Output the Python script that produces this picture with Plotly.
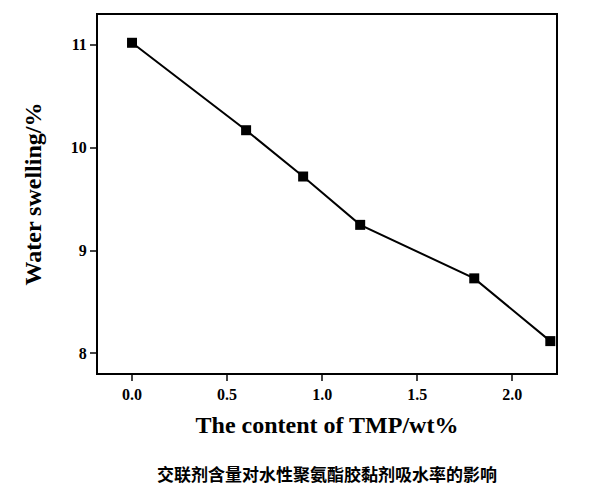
import plotly.graph_objects as go

tmp_content = [0.0, 0.6, 0.9, 1.2, 1.8, 2.2]
water_swelling = [11.02, 10.17, 9.72, 9.25, 8.73, 8.12]
x_ticks = [0.0, 0.5, 1.0, 1.5, 2.0]
x_labels = ["<b>0.0</b>", "<b>0.5</b>", "<b>1.0</b>", "<b>1.5</b>", "<b>2.0</b>"]
y_ticks = [8, 9, 10, 11]
y_labels = ["<b>8</b>", "<b>9</b>", "<b>10</b>", "<b>11</b>"]

fig = go.Figure(
    go.Scatter(
        x=tmp_content,
        y=water_swelling,
        mode="lines+markers",
        line={"color": "black", "width": 2},
        marker={"symbol": "square", "size": 10, "color": "black"},
    )
)

axis_font = {"family": "Liberation Serif", "size": 16, "color": "black"}
fig.update_xaxes(
    range=[-0.179, 2.23],
    tickvals=x_ticks,
    ticktext=x_labels,
    ticks="outside",
    ticklen=6,
    tickwidth=2,
    showline=True,
    linewidth=2,
    linecolor="black",
    mirror=True,
    showgrid=False,
    zeroline=False,
    tickfont=axis_font,
    title={"text": "<b>The content of TMP/wt%</b>",
           "font": {"family": "Liberation Serif", "size": 24, "color": "black"},
           "standoff": 14},
)
fig.update_yaxes(
    range=[7.81, 11.29],
    tickvals=y_ticks,
    ticktext=y_labels,
    ticks="outside",
    ticklen=6,
    tickwidth=2,
    showline=True,
    linewidth=2,
    linecolor="black",
    mirror=True,
    showgrid=False,
    zeroline=False,
    tickfont=axis_font,
    title={"text": "<b>Water swelling/%</b>",
           "font": {"family": "Liberation Serif", "size": 24, "color": "black"},
           "standoff": 22},
)

fig.add_annotation(
    text="<b>交联剂含量对水性聚氨酯胶黏剂吸水率的影响</b>",
    xref="paper", yref="paper", x=0.5, y=-0.28, yanchor="middle",
    showarrow=False,
    font={"family": "Noto Sans CJK SC", "size": 17, "color": "black"},
)

fig.update_layout(
    width=600,
    height=495,
    margin={"l": 90, "r": 52, "t": 5, "b": 130},
    plot_bgcolor="white",
    paper_bgcolor="white",
    showlegend=False,
)

fig.write_html("out.html")
